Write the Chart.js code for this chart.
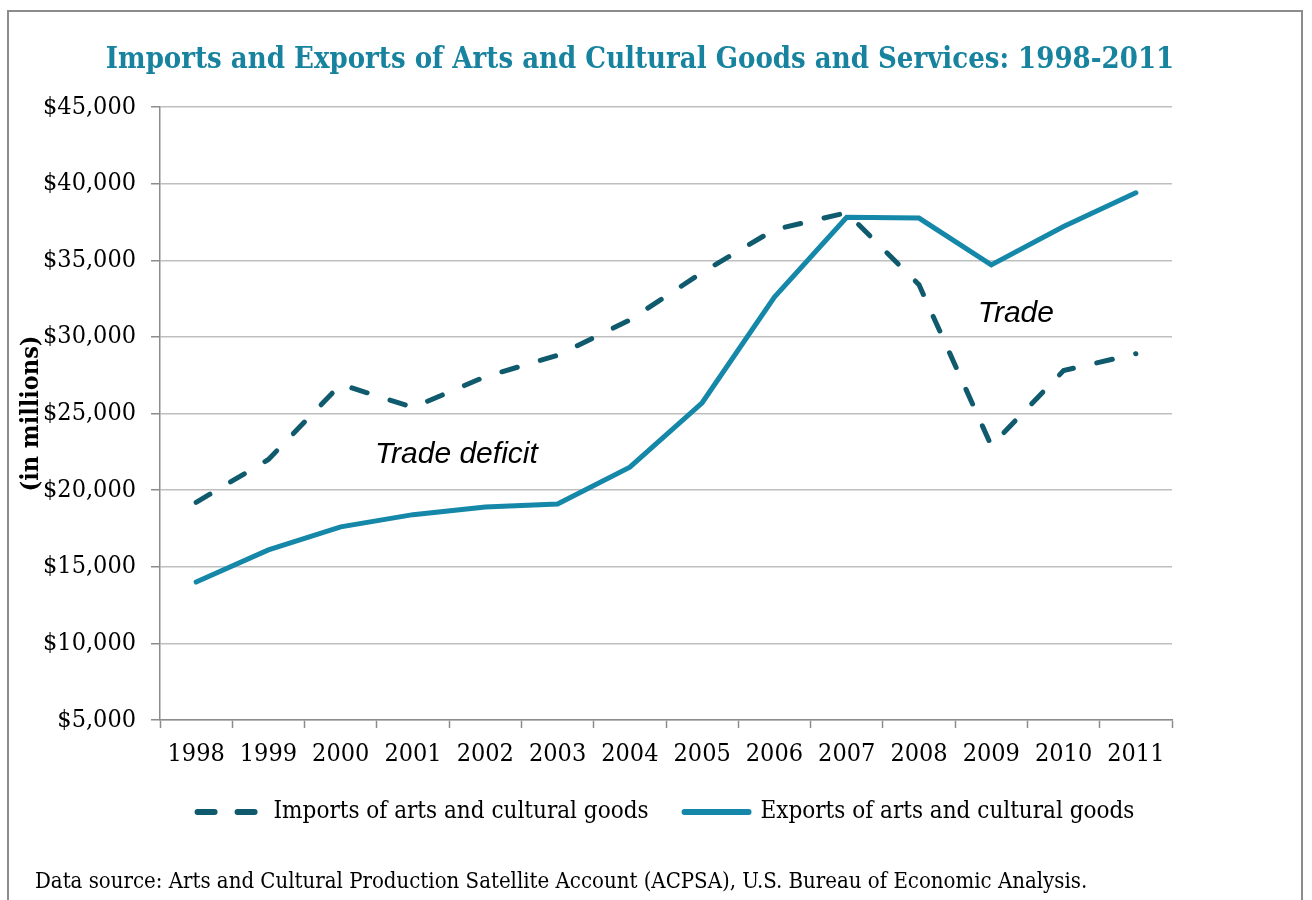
<!DOCTYPE html>
<html>
<head>
<meta charset="utf-8">
<script src="https://cdn.jsdelivr.net/npm/chart.js@4.4.1/dist/chart.umd.min.js"></script>
<style>
    body { margin: 0; background: #fff; }
    #wrap { position: relative; width: 1312px; height: 900px; overflow: hidden; }
    #frame { position: absolute; left: 7px; top: 10px; width: 1296px; height: 1000px; border: 2px solid #8c8c8c; box-sizing: border-box; }
    #title { position: absolute; left: 0; width: 1280px; top: 41px; text-align: center; color: #17839f;
             font: bold 29px "DejaVu Serif Condensed", "DejaVu Serif", serif; white-space: nowrap; }
    #source { position: absolute; left: 35px; top: 868px; color: #000;
              font: 22px "DejaVu Serif Condensed", "DejaVu Serif", serif; white-space: nowrap; }
    #chart { position: absolute; left: 0; top: 0; }
</style>
</head>
<body>
<div id="wrap">
    <div id="frame"></div>
    <canvas id="chart" width="1312" height="900"></canvas>
    <div id="title">Imports and Exports of Arts and Cultural Goods and Services: 1998-2011</div>
    <div id="source">Data source: Arts and Cultural Production Satellite Account (ACPSA), U.S. Bureau of Economic Analysis.</div>
</div>
<script>
// values in millions of dollars
var years = ["1998", "1999", "2000", "2001", "2002", "2003", "2004", "2005", "2006", "2007", "2008", "2009", "2010", "2011"];
var imports = [19200, 22000, 26900, 25400, 27400, 28800, 31100, 34200, 37000, 38100, 33400, 22900, 27800, 28900];
var exports = [14000, 16100, 17600, 18400, 18900, 19100, 21500, 25700, 32600, 37800, 37750, 34700, 37200, 39400];
var yTicks = [5000, 10000, 15000, 20000, 25000, 30000, 35000, 40000, 45000];

var serif = '"DejaVu Serif Condensed", "DejaVu Serif", serif';

// italic notes written inside the plot, placed in data units
var notes = [
    { text: "Trade deficit", x: 3.6, y: 22300 },
    { text: "Trade", x: 11.34, y: 31500 }
];

var notesPlugin = {
    id: 'notes',
    afterDatasetsDraw: function (chart) {
        var ctx = chart.ctx;
        var xs = chart.scales.x, ys = chart.scales.y;
        ctx.save();
        ctx.font = 'italic 30px "Liberation Sans", Arial, sans-serif';
        ctx.fillStyle = '#000';
        ctx.textAlign = 'center';
        ctx.textBaseline = 'middle';
        notes.forEach(function (n) {
            ctx.fillText(n.text, xs.getPixelForValue(n.x), ys.getPixelForValue(n.y));
        });
        ctx.restore();
    }
};

new Chart("chart", {
    type: "line",
    data: {
        labels: years,
        datasets: [{
            label: "Imports of arts and cultural goods",
            data: imports,
            borderColor: "#0f5a6d",
            backgroundColor: "#0f5a6d",
            borderWidth: 5,
            borderDash: [16, 24],
            borderCapStyle: 'round',
            pointRadius: 0,
            tension: 0
        }, {
            label: "Exports of arts and cultural goods",
            data: exports,
            borderColor: "#1587a8",
            backgroundColor: "#1587a8",
            borderWidth: 5,
            borderCapStyle: 'round',
            pointRadius: 0,
            tension: 0
        }]
    },
    options: {
        responsive: false,
        animation: false,
        layout: {
            padding: { top: 107, left: 10, right: 140, bottom: 66 }
        },
        plugins: {
            legend: {
                position: 'bottom',
                fullSize: false,
                labels: {
                    usePointStyle: true,
                    pointStyle: 'line',
                    pointStyleWidth: 64,
                    padding: 36,
                    color: '#000',
                    font: { size: 24, family: serif },
                    // point style legends drop the dash, so put it back
                    generateLabels: function (chart) {
                        var items = Chart.defaults.plugins.legend.labels.generateLabels(chart);
                        items.forEach(function (item) {
                            var ds = chart.data.datasets[item.datasetIndex];
                            item.lineDash = ds.borderDash ? [17, 23] : [];
                            item.lineCap = 'round';
                            item.lineWidth = 6;
                        });
                        return items;
                    }
                }
            },
            title: { display: false },
            tooltip: { enabled: false }
        },
        scales: {
            x: {
                offset: true,
                afterFit: function (scale) { scale.height = 44; },
                grid: {
                    offset: true,
                    drawOnChartArea: false,
                    tickLength: 8,
                    tickColor: '#8c8c8c',
                    tickWidth: 1.5
                },
                border: { color: '#8c8c8c', width: 1.5 },
                ticks: {
                    color: '#000',
                    padding: 11,
                    maxRotation: 0,
                    autoSkip: false,
                    font: { size: 25, family: serif }
                }
            },
            y: {
                min: 5000,
                max: 45000,
                afterFit: function (scale) { scale.width = 150; },
                afterBuildTicks: function (scale) {
                    scale.ticks = yTicks.map(function (v) { return { value: v }; });
                },
                title: {
                    display: true,
                    text: '(in millions)',
                    color: '#000',
                    padding: { top: 6, bottom: 0 },
                    font: { size: 25, weight: 'bold', family: serif }
                },
                grid: {
                    color: '#bfbfbf',
                    lineWidth: 1.5,
                    tickLength: 9,
                    tickColor: '#8c8c8c'
                },
                border: { color: '#8c8c8c', width: 1.5 },
                ticks: {
                    color: '#000',
                    padding: 15,
                    font: { size: 25, family: serif },
                    callback: function (v) { return '$' + v.toLocaleString('en-US'); }
                }
            }
        }
    },
    plugins: [notesPlugin]
});
</script>
</body>
</html>
